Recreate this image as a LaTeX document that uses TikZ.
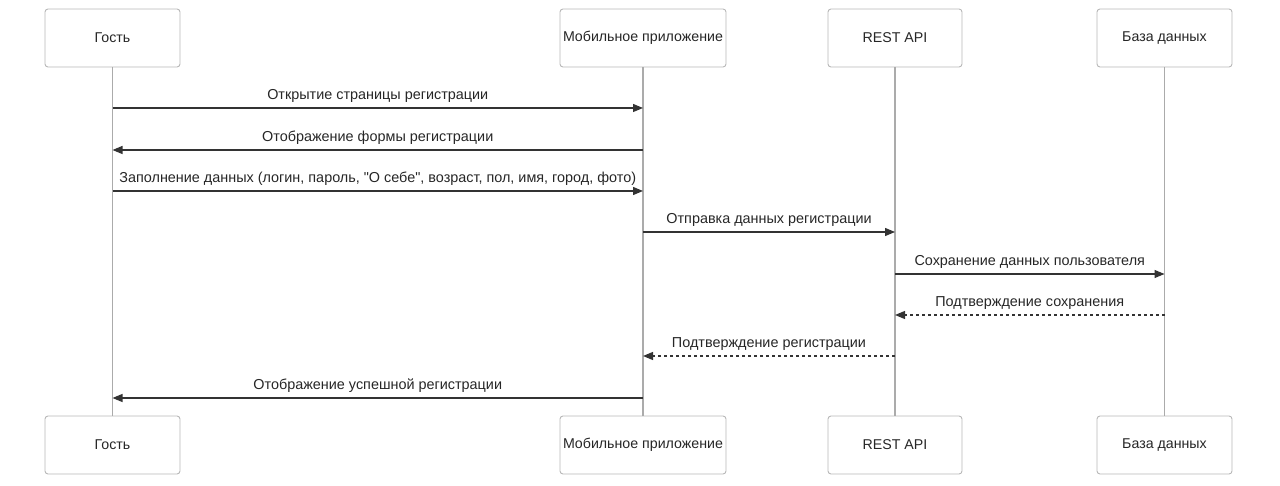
\documentclass[tikz,border=0pt]{standalone}
\usepackage{fontspec}
\setmainfont{Liberation Sans}
\usetikzlibrary{arrows.meta}
\begin{document}
\begin{tikzpicture}[x=1pt,y=-1pt,
  actor/.style={draw=black!28,line width=0.9pt,rounded corners=3pt,fill=white,
    minimum height=58pt,inner sep=0pt,font=\fontsize{14.2}{17}\selectfont,text=black!85},
  life/.style={draw=black!33,line width=1.4pt},
  msg/.style={draw=black!80,line width=1.2pt,-{Triangle[length=10pt,width=8pt]}},
  reply/.style={msg,dash pattern=on 3pt off 3pt},
  lbl/.style={font=\fontsize{14.4}{17}\selectfont,text=black!85}]
\useasboundingbox (0,0) rectangle (1280,486);
% participants, top and bottom
\node[actor,minimum width=135pt] (g1) at (112.5,38) {Гость};
\node[actor,minimum width=166pt] (m1) at (643,38) {Мобильное приложение};
\node[actor,minimum width=134pt] (r1) at (895,38) {REST API};
\node[actor,minimum width=135pt] (d1) at (1164.5,38) {База данных};
\node[actor,minimum width=135pt] (g2) at (112.5,445) {Гость};
\node[actor,minimum width=166pt] (m2) at (643,445) {Мобильное приложение};
\node[actor,minimum width=134pt] (r2) at (895,445) {REST API};
\node[actor,minimum width=135pt] (d2) at (1164.5,445) {База данных};
% lifelines
\draw[life] (g1.south) -- (g2.north);
\draw[life] (m1.south) -- (m2.north);
\draw[life] (r1.south) -- (r2.north);
\draw[life] (d1.south) -- (d2.north);
% anchor points on lifelines for each message
\foreach \n/\y in {1/108,2/150,3/191,4/232,5/274,6/315,7/356,8/398}{
  \coordinate (g\n) at (g1.south |- 0,\y);
  \coordinate (m\n) at (m1.south |- 0,\y);
  \coordinate (r\n) at (r1.south |- 0,\y);
  \coordinate (d\n) at (d1.south |- 0,\y);
}
% messages
\draw[msg] (g1) -- node[lbl,above=2pt] {Открытие страницы регистрации} (m1);
\draw[msg] (m2) -- node[lbl,above=2pt] {Отображение формы регистрации} (g2);
\draw[msg] (g3) -- node[lbl,above=2pt] {Заполнение данных (логин, пароль, \textquotedbl О себе\textquotedbl, возраст, пол, имя, город, фото)} (m3);
\draw[msg] (m4) -- node[lbl,above=2pt] {Отправка данных регистрации} (r4);
\draw[msg] (r5) -- node[lbl,above=2pt] {Сохранение данных пользователя} (d5);
\draw[reply] (d6) -- node[lbl,above=2pt] {Подтверждение сохранения} (r6);
\draw[reply] (r7) -- node[lbl,above=2pt] {Подтверждение регистрации} (m7);
\draw[msg] (m8) -- node[lbl,above=2pt] {Отображение успешной регистрации} (g8);
\end{tikzpicture}
\end{document}
